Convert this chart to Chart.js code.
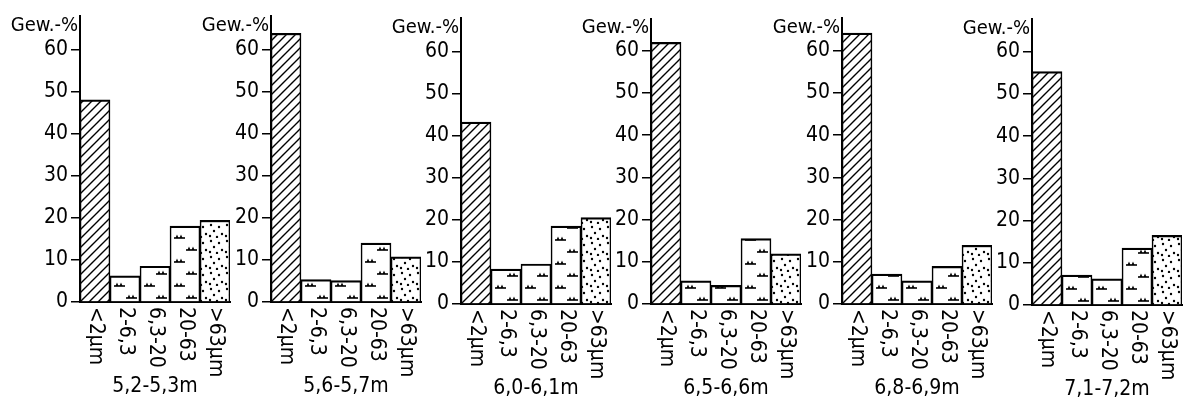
<!DOCTYPE html>
<html>
<head>
<meta charset="utf-8">
<script src="https://cdn.jsdelivr.net/npm/chart.js@4.4.1/dist/chart.umd.min.js"></script>
<style>
  html, body { margin: 0; padding: 0; background: #fff; }
  body { width: 1188px; height: 402px; position: relative; overflow: hidden; }
  canvas { position: absolute; }
</style>
</head>
<body>
<canvas id="c0" width="234" height="402"></canvas>
<canvas id="c1" width="234" height="402"></canvas>
<canvas id="c2" width="234" height="402"></canvas>
<canvas id="c3" width="234" height="402"></canvas>
<canvas id="c4" width="234" height="402"></canvas>
<canvas id="c5" width="234" height="402"></canvas>
<script>
// Kornfraktionen (x-Achse) und Tiefen (Unterschriften)
const categories = ["<2µm", "2-6,3", "6,3-20", "20-63", ">63µm"];
const depths = ["5,2-5,3m", "5,6-5,7m", "6,0-6,1m", "6,5-6,6m", "6,8-6,9m", "7,1-7,2m"];

// Gew.-% je Fraktion
const v52 = [48.0, 6.2, 8.5, 18.0, 19.4];
const v56 = [63.8, 5.3, 5.1, 14.0, 10.7];
const v60 = [43.2, 8.3, 9.5, 18.5, 20.5];
const v65 = [62.0, 5.5, 4.4, 15.5, 11.9];
const v68 = [64.2, 7.1, 5.5, 8.9, 13.9];
const v71 = [55.3, 7.1, 6.2, 13.5, 16.5];
const series = [v52, v56, v60, v65, v68, v71];

const yTicks = [0, 10, 20, 30, 40, 50, 60];
const yLabel = "Gew.-%";

// Lage der einzelnen Diagramme
const panelLeft = [0, 191, 381, 571, 762, 952];
const panelTop = [0, 0, 1.5, 2, 2, 2.5];
const axisTop = [15, 15, 16.5, 19, 18, 18.5];
const pxPerUnit = 4.22;
const fontFamily = '"DejaVu Sans Condensed", "DejaVu Sans", sans-serif';

// Füllmuster
function makeTile(w, h, draw) {
  const c = document.createElement("canvas");
  c.width = w;
  c.height = h;
  const g = c.getContext("2d");
  g.fillStyle = "#fff";
  g.fillRect(0, 0, w, h);
  g.strokeStyle = "#000";
  g.fillStyle = "#000";
  draw(g);
  return c;
}

const hatchTile = makeTile(9, 9, (g) => {
  g.lineWidth = 1.4;
  g.beginPath();
  g.moveTo(-1, 10); g.lineTo(10, -1);
  g.moveTo(-2, 2); g.lineTo(2, -2);
  g.moveTo(7, 11); g.lineTo(11, 7);
  g.stroke();
});

function siltSymbol(g, x, y) {
  g.lineWidth = 1.6;
  g.beginPath();
  g.moveTo(x, y); g.lineTo(x + 11, y);
  g.stroke();
  g.beginPath();
  g.moveTo(x + 1.5, y); g.lineTo(x + 3, y - 3.5); g.lineTo(x + 4.5, y);
  g.moveTo(x + 5.5, y); g.lineTo(x + 7, y - 3.5); g.lineTo(x + 8.5, y);
  g.fill();
}
const siltTile = makeTile(30, 24, (g) => {
  siltSymbol(g, 4, 8);
  siltSymbol(g, 16, 20);
});

const dotTile = makeTile(16, 16, (g) => {
  [[3, 3], [11, 5], [6, 9], [14, 12], [2, 14], [9, 15]].forEach(([x, y]) => {
    g.beginPath();
    g.arc(x, y, 1.2, 0, Math.PI * 2);
    g.fill();
  });
});

function pattern(ctx, tile) {
  const p = ctx.createPattern(tile, "repeat");
  p.setTransform(new DOMMatrix().translate(80, 302));
  return p;
}

// Beschriftungen: gedrehte Fraktionen, Gew.-% und Tiefe
const labelPlugin = {
  id: "sketchLabels",
  afterDraw(chart, args, opts) {
    const { ctx, chartArea, scales } = chart;
    const x = scales.x;
    ctx.save();
    ctx.fillStyle = "#000";
    ctx.font = "21px " + fontFamily;
    ctx.textAlign = "left";
    ctx.textBaseline = "middle";
    categories.forEach((lab, i) => {
      ctx.save();
      ctx.translate(x.getPixelForTick(i), chartArea.bottom + 5);
      ctx.rotate(Math.PI / 2);
      ctx.fillText(lab, 0, 0);
      ctx.restore();
    });
    ctx.font = "20px " + fontFamily;
    ctx.textAlign = "right";
    ctx.textBaseline = "alphabetic";
    ctx.fillText(yLabel, chartArea.left - 2, 31);
    ctx.font = "21px " + fontFamily;
    ctx.textAlign = "center";
    ctx.textBaseline = "middle";
    ctx.fillText(opts.caption, (chartArea.left + chartArea.right) / 2, 387);
    ctx.restore();
  },
};

series.forEach((values, i) => {
  const canvas = document.getElementById("c" + i);
  canvas.style.left = panelLeft[i] + "px";
  canvas.style.top = panelTop[i] + "px";
  const ctx = canvas.getContext("2d");
  const siltPat = pattern(ctx, siltTile);
  const fills = [pattern(ctx, hatchTile), siltPat, siltPat, siltPat, pattern(ctx, dotTile)];
  const padTop = axisTop[i] - panelTop[i];

  new Chart(ctx, {
    type: "bar",
    data: {
      labels: categories,
      datasets: [
        {
          data: values,
          backgroundColor: fills,
          borderColor: "#000",
          borderWidth: { top: 2.2, left: 1.6, right: 1.6, bottom: 0 },
          borderSkipped: "bottom",
          categoryPercentage: 1,
          barPercentage: 1,
        },
      ],
    },
    options: {
      responsive: false,
      animation: false,
      events: [],
      layout: { padding: { top: padTop, right: 4, bottom: 0, left: 0 } },
      plugins: {
        legend: { display: false },
        tooltip: { enabled: false },
        sketchLabels: { caption: depths[i] },
      },
      scales: {
        x: {
          grid: { display: false },
          border: { display: true, color: "#000", width: 2 },
          ticks: { display: false },
          afterFit: (s) => { s.height = 100; },
        },
        y: {
          min: 0,
          max: (302 - padTop) / pxPerUnit,
          afterBuildTicks: (s) => { s.ticks = yTicks.map((v) => ({ value: v })); },
          afterFit: (s) => { s.width = 80; },
          border: { display: true, color: "#000", width: 2 },
          grid: { drawOnChartArea: false, drawTicks: true, tickLength: 9, color: "#000", lineWidth: 1.5 },
          ticks: { color: "#000", font: { family: fontFamily, size: 21 }, padding: 3 },
        },
      },
    },
    plugins: [labelPlugin],
  });
});
</script>
</body>
</html>
